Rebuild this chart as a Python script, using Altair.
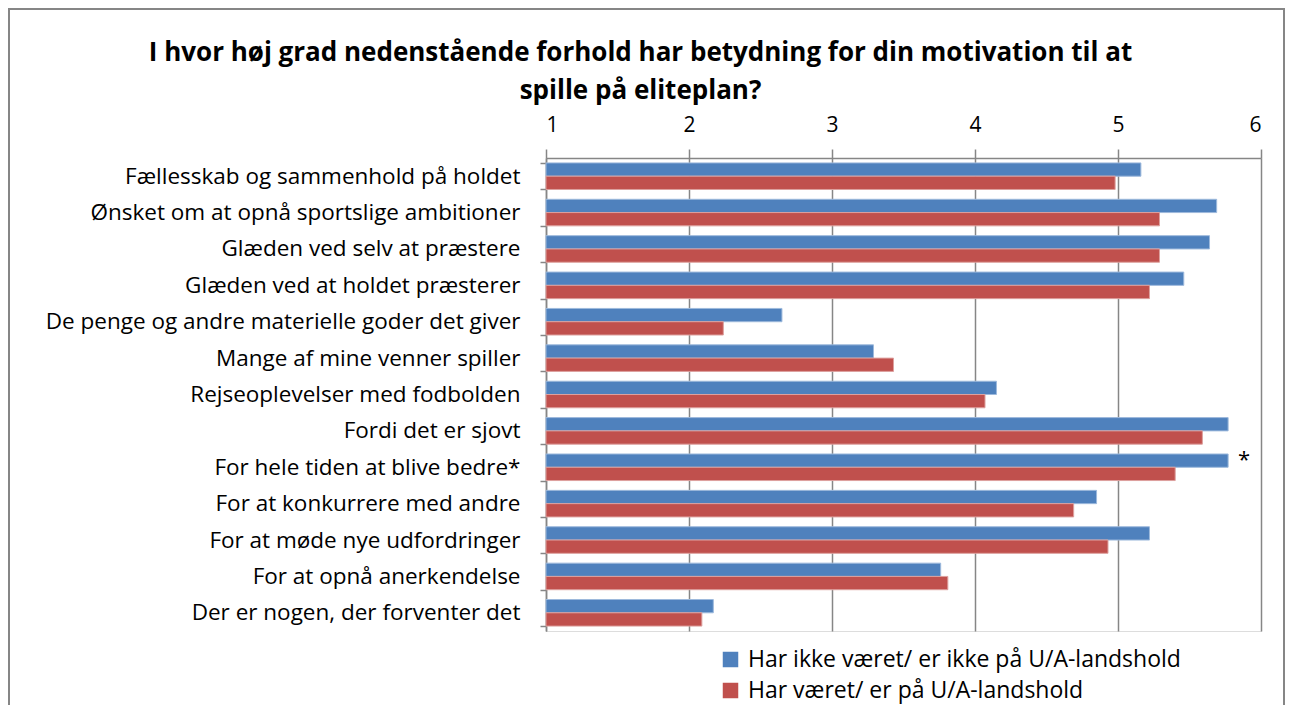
import altair as alt
import pandas as pd

categories = [
    "Fællesskab og sammenhold på holdet",
    "Ønsket om at opnå sportslige ambitioner",
    "Glæden ved selv at præstere",
    "Glæden ved at holdet præsterer",
    "De penge og andre materielle goder det giver",
    "Mange af mine venner spiller",
    "Rejseoplevelser med fodbolden",
    "Fordi det er sjovt",
    "For hele tiden at blive bedre*",
    "For at konkurrere med andre",
    "For at møde nye udfordringer",
    "For at opnå anerkendelse",
    "Der er nogen, der forventer det",
]
series = ["Har ikke været/ er ikke på U/A-landshold", "Har været/ er på U/A-landshold"]
not_national = [5.16, 5.69, 5.64, 5.46, 2.65, 3.29, 4.15, 5.77, 5.77, 4.85, 5.22, 3.76, 2.17]
national = [4.98, 5.29, 5.29, 5.22, 2.24, 3.43, 4.07, 5.59, 5.40, 4.69, 4.93, 3.81, 2.09]
colors = ["#4F81BD", "#C0504D"]
strokes = ["#9DB9DC", "#DDA09E"]
title_lines = ["I hvor høj grad nedenstående forhold har betydning for din motivation til at",
               "spille på eliteplan?"]
marked = ["For hele tiden at blive bedre*"]

rows = []
for c, a, b in zip(categories, not_national, national):
    rows.append({"category": c, "series": series[0], "value": a})
    rows.append({"category": c, "series": series[1], "value": b})
df = pd.DataFrame(rows)

FONT = "Open Sans"
W, H = 715, 473

x_scale = alt.Scale(domain=[1, 6], nice=False, zero=False)
y_scale = alt.Scale(domain=categories, paddingInner=0.27, paddingOuter=0.135)

bars = alt.Chart(df).mark_bar(strokeWidth=1).encode(
    x=alt.X("value:Q", scale=x_scale,
            axis=alt.Axis(orient="top", values=[1, 2, 3, 4, 5, 6], format="d", title=None,
                          labelFontSize=21, labelFont=FONT, labelColor="black",
                          tickSize=9, tickColor="#868686", tickWidth=1.5,
                          domainColor="#868686", domainWidth=1.5,
                          grid=True, gridColor="#868686", gridWidth=1.5,
                          labelPadding=14)),
    x2=alt.datum(1),
    y=alt.Y("category:N", sort=categories, scale=y_scale,
            axis=alt.Axis(title=None, labelFontSize=22.5, labelFont=FONT, labelColor="black",
                          tickSize=6, tickColor="#868686", tickWidth=1.5, tickBand="extent",
                          domainColor="#868686", domainWidth=1.5, labelPadding=20,
                          labelLimit=600, grid=False)),
    yOffset=alt.YOffset("series:N", sort=series),
    color=alt.Color("series:N", sort=series, scale=alt.Scale(domain=series, range=colors),
                    legend=alt.Legend(title=None, orient="none", legendX=173, legendY=490,
                                      labelFontSize=23, labelFont=FONT, labelColor="black",
                                      symbolType="square", symbolSize=240, symbolStrokeWidth=0,
                                      rowPadding=7, labelLimit=600, labelOffset=6)),
    stroke=alt.Stroke("series:N", sort=series, scale=alt.Scale(domain=series, range=strokes),
                      legend=None),
)

star_df = df[(df["category"].isin(marked)) & (df["series"] == series[0])].copy()
star_df["label"] = "*"
star = alt.Chart(star_df).mark_text(align="left", dx=10, dy=-1, fontSize=22, font=FONT,
                                    color="black").encode(
    x="value:Q",
    y=alt.Y("category:N", sort=categories, scale=y_scale),
    yOffset=alt.YOffset("series:N", sort=series),
    text="label:N",
)

frame = alt.Chart(alt.Data(values=[{}])).mark_rect(fill=None, stroke="#868686", strokeWidth=2).encode(
    x=alt.value(-537), x2=alt.value(W + 23), y=alt.value(-149), y2=alt.value(H + 80)
)

chart = alt.layer(frame, bars, star).properties(
    width=W, height=H,
    autosize=alt.AutoSizeParams(type="none"),
    padding={"left": 538, "top": 150, "right": 24, "bottom": 74},
    title=alt.TitleParams(text=title_lines, anchor="middle", frame="group", dx=-263, dy=96,
                          offset=0, fontSize=26, font=FONT, fontWeight="bold", color="black",
                          lineHeight=38),
).configure_view(stroke=None).configure(background="white")

chart.save("out.html", embed_options={"renderer": "svg", "actions": False})
